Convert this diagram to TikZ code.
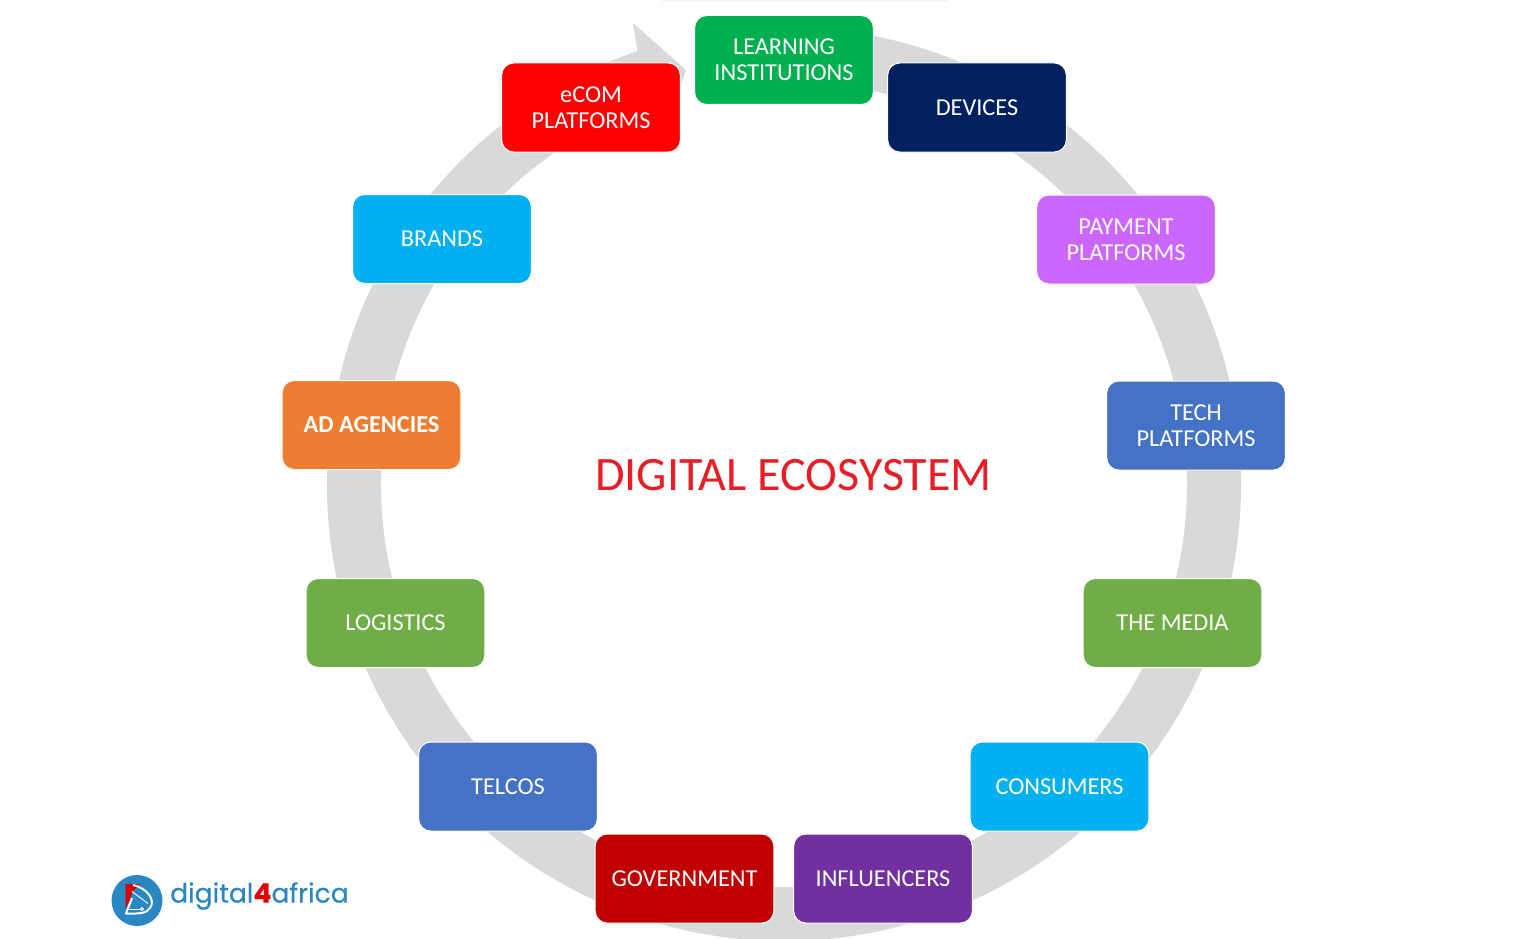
\documentclass[tikz,border=0pt]{standalone}
\usepackage{fontspec}
\usetikzlibrary{calc}
\setmainfont{Carlito}
\newfontfamily\logofont[FakeBold=0.5]{Poppins}
\definecolor{ringgray}{HTML}{D9D9D9}
\definecolor{logoblue}{HTML}{2A87C2}
\tikzset{
  eco/.style={draw=white,line width=1pt,rounded corners=12pt,minimum width=178.6pt,minimum height=89pt,
    inner sep=0pt,align=center,text=white,font=\fontsize{24.3}{26}\selectfont},
}
\begin{document}
\begin{tikzpicture}[x=1pt,y=1pt]
\useasboundingbox (0,0) rectangle (1536,-939);
\clip (0,0) rectangle (1536,-939);
\fill[white] (0,0) rectangle (1536,-939);
\fill[black!4] (662,0) rectangle (948,-2);
% ring with arrow head
\coordinate (c) at (784,-484);
\coordinate (headtop) at (633,-23);
\coordinate (headtip) at (686,-70);
\coordinate (headlow) at (664.5,-131);
\fill[ringgray] (c) ++(88:457) arc (88:-251.3:457) -- (headtop) -- (headtip) -- (headlow)
  -- ($(c)+(-251.3:403)$) arc (-251.3:88:403) -- cycle;
% boxes
\node[eco,fill={rgb,255:red,0;green,176;blue,80}] (learn) at (784,-60) {LEARNING\\INSTITUTIONS};
\node[eco,fill={rgb,255:red,0;green,32;blue,96}] (dev) at (977,-107.5) {DEVICES};
\node[eco,fill={rgb,255:red,204;green,102;blue,255}] (pay) at (1126,-239.5) {PAYMENT\\PLATFORMS};
\node[eco,fill={rgb,255:red,68;green,114;blue,196}] (tech) at (1196,-425.5) {TECH\\PLATFORMS};
\node[eco,fill={rgb,255:red,112;green,173;blue,71}] (media) at (1172.5,-623) {THE MEDIA};
\node[eco,fill={rgb,255:red,0;green,176;blue,240}] (cons) at (1059.5,-786.5) {CONSUMERS};
\node[eco,fill={rgb,255:red,112;green,48;blue,160}] (infl) at (883,-878.5) {INFLUENCERS};
\node[eco,fill={rgb,255:red,192;green,0;blue,0}] (gov) at (684.5,-878.5) {GOVERNMENT};
\node[eco,fill={rgb,255:red,68;green,114;blue,196}] (telcos) at (508,-786.5) {TELCOS};
\node[eco,fill={rgb,255:red,112;green,173;blue,71}] (logi) at (395.5,-623) {LOGISTICS};
\node[eco,fill={rgb,255:red,237;green,125;blue,49},font=\fontsize{24.3}{26}\selectfont\bfseries] (ad) at (371.5,-425) {AD AGENCIES};
\node[eco,fill={rgb,255:red,0;green,176;blue,240}] (brands) at (442,-239) {BRANDS};
\node[eco,fill={rgb,255:red,255;green,0;blue,0}] (ecom) at (591,-107.5) {eCOM\\PLATFORMS};
% title
\node[text={rgb,255:red,232;green,30;blue,38},font=\fontsize{48}{52}\selectfont,inner sep=0pt] (title) at (793.5,-475) {DIGITAL ECOSYSTEM};
% logo
\fill[logoblue] (137,-900.5) circle (25.5);
\fill[red!85!black] (125.7,-884) -- (140,-884) -- (132,-892) -- (130,-900) -- (125.7,-908) -- cycle;
\draw[white,line width=2pt,line join=round] (133,-885) .. controls (147,-888) and (156,-900) .. (150,-908) .. controls (147,-913) and (140,-914) .. (126,-913.5) -- (132,-898);
\draw[white,line width=0.9pt] (132,-891.5) -- (148,-903.5);
\draw[white,line width=0.9pt] (128.5,-909) -- (141,-909);
\draw[white,line width=0.8pt] (142,-909) circle (1.5);
\node[inner sep=0pt,anchor=west,text=logoblue,font=\logofont\fontsize{26.6}{30}\selectfont] (logotext) at (170,-896) {digital{\color{red!90!black}\bfseries 4}africa};
\end{tikzpicture}
\end{document}
